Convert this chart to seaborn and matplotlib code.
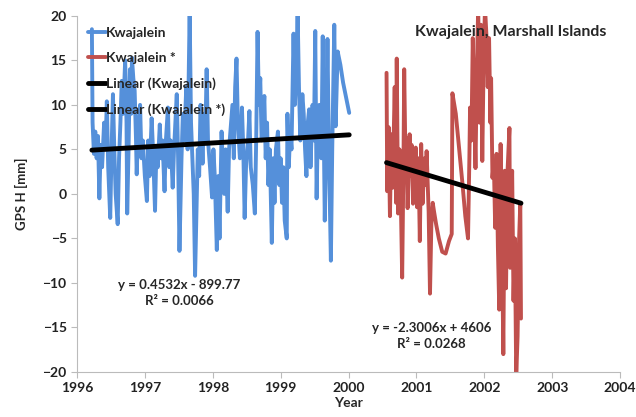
import pandas as pd
import matplotlib
matplotlib.use('Agg')
import matplotlib.pyplot as plt
import seaborn as sns

# GPS height, Kwajalein (decimal year, mm)
blue_year = [1996.22, 1996.23, 1996.25, 1996.27, 1996.29, 1996.31, 1996.33, 1996.35, 1996.37, 1996.40,
             1996.42, 1996.44, 1996.46, 1996.49, 1996.51, 1996.53, 1996.55, 1996.57, 1996.60, 1996.62,
             1996.64, 1996.66, 1996.68, 1996.71, 1996.73, 1996.74, 1996.76, 1996.78, 1996.80, 1996.81,
             1996.83, 1996.85, 1996.87, 1996.88, 1996.90, 1996.93, 1996.95, 1996.97, 1997.00, 1997.03,
             1997.05, 1997.07, 1997.10, 1997.12, 1997.15, 1997.17, 1997.19, 1997.22, 1997.24, 1997.26,
             1997.29, 1997.31, 1997.34, 1997.36, 1997.38, 1997.41, 1997.43, 1997.45, 1997.47, 1997.49,
             1997.51, 1997.54, 1997.56, 1997.58, 1997.61, 1997.63, 1997.66, 1997.68, 1997.70, 1997.72,
             1997.74, 1997.76, 1997.78, 1997.80, 1997.82, 1997.85, 1997.87, 1997.89, 1997.91, 1997.93,
             1997.96, 1997.99, 1998.01, 1998.03, 1998.06, 1998.08, 1998.10, 1998.13, 1998.15, 1998.17,
             1998.19, 1998.22, 1998.24, 1998.27, 1998.29, 1998.31, 1998.33, 1998.35, 1998.37, 1998.40,
             1998.43, 1998.45, 1998.47, 1998.49, 1998.52, 1998.54, 1998.56, 1998.59, 1998.62, 1998.64,
             1998.66, 1998.68, 1998.70, 1998.72, 1998.74, 1998.76, 1998.78, 1998.80, 1998.82, 1998.84,
             1998.87, 1998.89, 1998.91, 1998.93, 1998.96, 1998.98, 1999.00, 1999.02, 1999.04, 1999.06,
             1999.09, 1999.10, 1999.12, 1999.14, 1999.16, 1999.19, 1999.21, 1999.23, 1999.25, 1999.27,
             1999.29, 1999.32, 1999.34, 1999.36, 1999.38, 1999.40, 1999.42, 1999.44, 1999.47, 1999.49,
             1999.51, 1999.53, 1999.55, 1999.57, 1999.60, 1999.62, 1999.65, 1999.67, 1999.69, 1999.71,
             1999.74, 1999.76, 1999.79, 1999.81, 1999.84, 1999.88, 1999.92, 1999.96, 2000.01]
blue_mm = [18.5, 8.0, 4.5, 7.0, 4.0, 6.5, -0.5, 5.5, 3.0, 8.0,
           5.0, 10.4, 3.0, -2.7, 5.0, 11.2, 5.0, 0.0, -3.4, 4.0,
           8.0, 12.7, 9.0, 15.0, 8.0, -2.2, 5.0, 14.0, 9.0, 15.3,
           13.0, 11.6, 6.0, 2.2, 7.0, 10.0, 4.0, 6.0, 2.0, -0.8,
           6.0, 2.0, 8.5, 5.0, -1.9, 5.0, 3.0, 7.8, 4.0, 6.0,
           0.3, 6.0, 9.7, 3.0, 6.0, 0.7, 5.0, 8.0, 11.2, 4.0,
           -6.4, 4.0, 9.0, 6.0, 12.0, 5.0, 20.5, 8.0, 4.0, 0.0,
           -9.2, -2.0, 5.0, 2.0, 10.0, 3.4, 9.0, 6.0, 14.0, 6.0,
           3.0, -0.4, 5.0, 2.0, -6.3, 2.0, -5.0, 7.0, 3.0, 0.0,
           5.0, -2.0, 5.0, 8.0, 10.0, 4.0, 12.0, 15.2, 8.0, 4.0,
           9.7, 5.0, -2.7, 3.0, 6.0, 9.3, 3.0, 1.0, -2.2, 6.0,
           18.2, 10.0, 13.0, 6.0, 8.0, 11.0, 4.0, 8.0, 1.0, 5.0,
           -5.5, 4.0, -1.0, 5.0, 7.0, 1.0, 4.0, -1.0, 3.0, -3.0,
           -5.0, 9.0, 3.0, 7.0, 5.0, 18.0, 10.0, 14.0, 20.5, 12.0,
           6.0, 11.2, 9.0, 5.0, 2.0, 8.0, 9.5, 3.0, 10.0, 6.0,
           18.3, -0.5, 8.0, 10.0, 4.0, 17.7, -3.0, 6.0, 17.4, 5.0,
           -7.5, 5.0, 19.0, 7.6, 16.0, 14.5, 12.5, 11.0, 9.1]

# GPS height, Kwajalein * (decimal year, mm)
red_year = [2000.56, 2000.57, 2000.59, 2000.61, 2000.63, 2000.65, 2000.68, 2000.70, 2000.71, 2000.73,
            2000.75, 2000.77, 2000.79, 2000.81, 2000.82, 2000.84, 2000.85, 2000.87, 2000.90, 2000.92,
            2000.93, 2000.95, 2000.97, 2000.99, 2001.01, 2001.03, 2001.05, 2001.07, 2001.09, 2001.12,
            2001.14, 2001.15, 2001.18, 2001.20, 2001.22, 2001.24, 2001.26, 2001.29, 2001.33, 2001.38,
            2001.43, 2001.48, 2001.52, 2001.53, 2001.58, 2001.63, 2001.68, 2001.72, 2001.76, 2001.78,
            2001.79, 2001.81, 2001.83, 2001.85, 2001.87, 2001.89, 2001.91, 2001.93, 2001.95, 2001.97,
            2001.99, 2002.01, 2002.03, 2002.05, 2002.07, 2002.09, 2002.10, 2002.12, 2002.14, 2002.16,
            2002.18, 2002.20, 2002.22, 2002.24, 2002.26, 2002.28, 2002.30, 2002.32, 2002.34, 2002.37,
            2002.38, 2002.41, 2002.43, 2002.45, 2002.47, 2002.49, 2002.51, 2002.53, 2002.54]
red_mm = [13.6, 0.3, 7.5, -2.5, 6.7, 0.7, 12.0, -1.0, 15.2, -2.2,
          5.0, -0.5, -9.4, 4.0, 14.0, 3.0, 6.3, -1.6, 6.7, 2.0,
          5.5, -1.1, 3.0, 5.2, -1.5, 4.0, -5.3, 5.6, -1.1, 4.0,
          1.0, 4.8, -2.0, -11.2, -3.4, -1.0, -2.0, -3.4, -5.0, -6.5,
          -6.7, -5.3, -4.5, 11.3, 9.0, 5.0, 1.0, -2.5, -5.0, 4.0,
          9.7, 6.0, 17.5, 10.0, 2.9, 14.0, 21.0, 8.0, 19.0, 3.7,
          15.0, 21.0, 18.0, 12.0, 17.5, 8.0, 13.0, 1.8, 3.7, -3.8,
          4.5, -6.0, -13.0, 5.6, -5.0, -18.0, 2.6, -10.6, 2.2, 7.4,
          -8.3, 2.6, -12.0, -5.0, -20.5, -16.0, -5.6, -1.0, -14.0]

# Excel trend line coefficients (slope, intercept)
blue_fit = (0.4532, -899.77)
red_fit = (-2.3006, 4606)

year_ticks = [1996, 1997, 1998, 1999, 2000, 2001, 2002, 2003, 2004]
mm_ticks = [-20, -15, -10, -5, 0, 5, 10, 15, 20]

sns.set_theme(style='white')
plt.rcParams['font.family'] = ['Lato', 'DejaVu Sans']
plt.rcParams['font.weight'] = 'bold'

blue = pd.DataFrame({'Year': blue_year, 'mm': blue_mm})
red = pd.DataFrame({'Year': red_year, 'mm': red_mm})

def trend(df, fit):
    xs = [df['Year'].min(), df['Year'].max()]
    return pd.DataFrame({'Year': xs, 'mm': [fit[0] * x + fit[1] for x in xs]})

fig = plt.figure(figsize=(6.36, 4.17), dpi=100)
ax = fig.add_axes([0.121, 0.108, 0.854, 0.854])

sns.lineplot(data=blue, x='Year', y='mm', ax=ax, color='#5590DA', linewidth=2.8,
             estimator=None, sort=False, label='Kwajalein')
sns.lineplot(data=red, x='Year', y='mm', ax=ax, color='#C0504D', linewidth=2.8,
             estimator=None, sort=False, label='Kwajalein *')
sns.lineplot(data=trend(blue, blue_fit), x='Year', y='mm', ax=ax, color='black',
             linewidth=3.5, label='Linear (Kwajalein)')
sns.lineplot(data=trend(red, red_fit), x='Year', y='mm', ax=ax, color='black',
             linewidth=3.5, label='Linear (Kwajalein *)')

ax.set_xlim(1996, 2004)
ax.set_ylim(-20, 20)
ax.set_xticks(year_ticks)
ax.set_yticks(mm_ticks)
ax.tick_params(axis='both', labelsize=10, colors='#222222', length=4, width=0.8,
               direction='out', bottom=True, left=True)
for lab in ax.get_xticklabels() + ax.get_yticklabels():
    lab.set_fontweight('bold')
ax.tick_params(axis='both', color='#BBBBBB')
for side in ['top', 'right']:
    ax.spines[side].set_visible(False)
for side in ['left', 'bottom']:
    ax.spines[side].set_color('#BBBBBB')
    ax.spines[side].set_linewidth(0.8)

ax.set_xlabel('Year', fontsize=10, fontweight='bold', labelpad=2)
ax.set_ylabel('GPS H [mm]', fontsize=9.5, fontweight='bold', labelpad=10)

ax.legend(loc='upper left', bbox_to_anchor=(0.01, 0.985), frameon=False, fontsize=10,
          handlelength=1.3, handletextpad=0.0, labelspacing=0.95, borderaxespad=0)

ax.text(0.799, 0.955, 'Kwajalein, Marshall Islands', transform=ax.transAxes,
        ha='center', va='center', fontsize=11.5, fontweight='bold')
ax.text(0.188, 0.222, 'y = 0.4532x - 899.77\nR² = 0.0066', transform=ax.transAxes,
        ha='center', va='center', fontsize=9.5, fontweight='bold', linespacing=1.4)
ax.text(0.653, 0.102, 'y = -2.3006x + 4606\nR² = 0.0268', transform=ax.transAxes,
        ha='center', va='center', fontsize=9.5, fontweight='bold', linespacing=1.4)

fig.savefig('out.png', dpi=100)
